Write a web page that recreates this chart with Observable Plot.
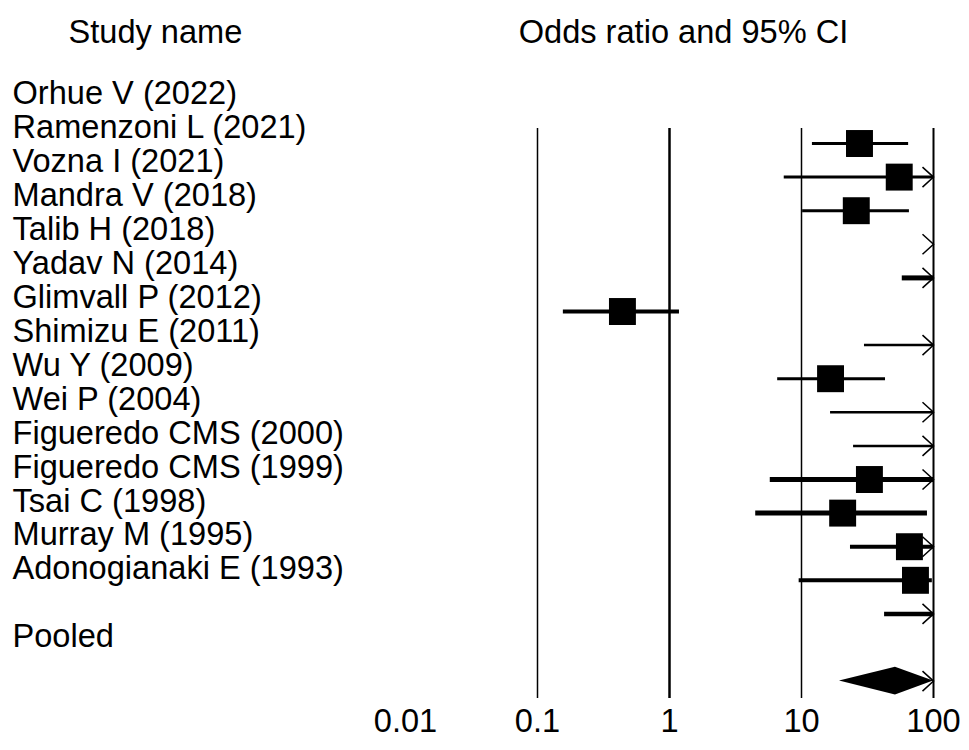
<!DOCTYPE html>
<html>
<head>
<meta charset="utf-8">
<script src="https://cdn.jsdelivr.net/npm/d3@7"></script>
<script src="https://cdn.jsdelivr.net/npm/@observablehq/plot@0.6"></script>
<style>
  html, body { margin: 0; padding: 0; background: #fff; }
  #chart svg { display: block; }
</style>
</head>
<body>
<div id="chart"></div>
<script>
// ---- data ----
const studies = [
  "Orhue V (2022)", "Ramenzoni L (2021)", "Vozna I (2021)", "Mandra V (2018)",
  "Talib H (2018)", "Yadav N (2014)", "Glimvall P (2012)", "Shimizu E (2011)",
  "Wu Y (2009)", "Wei P (2004)", "Figueredo CMS (2000)", "Figueredo CMS (1999)",
  "Tsai C (1998)", "Murray M (1995)", "Adonogianaki E (1993)"
];
const oddsRatio = [27.5, 55, 26, 300, 250, 0.44, 400, 16.6, 300, 300, 32.7, 20.5, 65.7, 73, 400];
const lowerCI   = [12.1, 7.4, 10.2, 150, 58, 0.157, 30, 6.6, 16.6, 24.8, 5.8, 4.5, 23.5, 9.6, 42.6];
const upperCI   = [64.8, 800, 65.7, 900, 1000, 1.19, 2000, 43.3, 3000, 2000, 500, 90, 500, 98, 2000];
const lineWeight = [3, 3, 3, 2, 5, 4, 2.5, 3, 2.5, 2.5, 5, 5, 4, 4, 4.5];

const pooledLabel = "Pooled";
const pooledOR = 51.5, pooledLower = 19.4, pooledUpper = 140;

const refLines = [0.1, 1, 10, 100];
const refWidths = [1.5, 2.5, 1.5, 2];
const tickValues = [0.01, 0.1, 1, 10, 100];
const tickLabels = ["0.01", "0.1", "1", "10", "100"];

// ---- layout constants ----
const W = 969, H = 750;
const xMin = 0.01, xMax = 100;
const marginLeft = 405, marginRight = 36;
const rowTop = -4.256, rowBottom = 18.065;   // y domain in row units
const labelStart = -1.486, labelStep = 1.0107;
const pooledRow = 16;
const headerRow = -3.3;
const tickRow = 17.2;
const lineTop = -0.446, lineBottom = 16.52;
const diamondHalf = 0.416;
const font = "'Liberation Sans', Arial, Helvetica, sans-serif";
const fs = 32.6;

const rows = studies.map((s, i) => ({
  name: s, row: i, or: oddsRatio[i], lo: lowerCI[i], hi: upperCI[i], w: lineWeight[i]
}));
const ciRows = rows.filter(d => d.lo < xMax).map(d => ({...d, x1: Math.max(d.lo, xMin), x2: Math.min(d.hi, xMax)}));
const boxRows = rows.filter(d => d.or >= xMin && d.or <= xMax);
const arrowRows = rows.filter(d => d.hi > xMax).map(d => ({row: d.row}));
if (pooledUpper > xMax) arrowRows.push({row: pooledRow});

const labelRows = studies.map((s, i) => ({name: s, row: labelStart + labelStep * i}));
labelRows.push({name: pooledLabel, row: labelStart + labelStep * (studies.length + 1)});

const diamond = [
  {x: pooledLower, f: 0},
  {x: pooledOR, f: 1},
  {x: Math.min(pooledUpper, xMax), f: 0}
];

const chevron = {
  draw(context) {
    context.moveTo(-11, -10);
    context.lineTo(0, 0);
    context.lineTo(-11, 10);
  }
};

const chart = Plot.plot({
  width: W,
  height: H,
  marginLeft, marginRight, marginTop: 0, marginBottom: 0,
  style: {fontFamily: font, background: "#fff", color: "#000"},
  x: {type: "log", domain: [xMin, xMax], axis: null},
  y: {type: "linear", domain: [rowTop, rowBottom], reverse: true, axis: null},
  marks: [
    Plot.ruleX(refLines.map((v, i) => ({v, w: refWidths[i]})), {
      x: "v", y1: lineTop, y2: lineBottom, stroke: "#000", strokeWidth: "w"
    }),
    Plot.ruleY(ciRows, {y: "row", x1: "x1", x2: "x2", stroke: "#000", strokeWidth: "w"}),
    Plot.dot(boxRows, {x: "or", y: "row", symbol: "square", r: 15.2, fill: "#000", stroke: "none"}),
    Plot.dot(arrowRows, {x: () => xMax, y: "row", symbol: chevron, r: 5, fill: "none", stroke: "#000", strokeWidth: 1.5}),
    Plot.areaY(diamond, {
      x: "x",
      y1: d => pooledRow - diamondHalf * d.f,
      y2: d => pooledRow + diamondHalf * d.f,
      fill: "#000"
    }),
    Plot.text(labelRows, {
      y: "row", text: "name", frameAnchor: "left", textAnchor: "start",
      dx: 12 - marginLeft, fontSize: fs, fill: "#000"
    }),
    Plot.text(["Study name"], {
      y: () => headerRow, text: d => d, frameAnchor: "left", textAnchor: "start",
      dx: 68 - marginLeft, fontSize: fs, fill: "#000"
    }),
    Plot.text(["Odds ratio and 95% CI"], {
      y: () => headerRow, text: d => d, dx: 14, fontSize: fs, fill: "#000"
    }),
    Plot.text(tickValues.map((v, i) => ({v, label: tickLabels[i]})), {
      x: "v", y: () => tickRow, text: "label", fontSize: fs, fill: "#000"
    })
  ]
});
document.getElementById("chart").appendChild(chart);
</script>
</body>
</html>
